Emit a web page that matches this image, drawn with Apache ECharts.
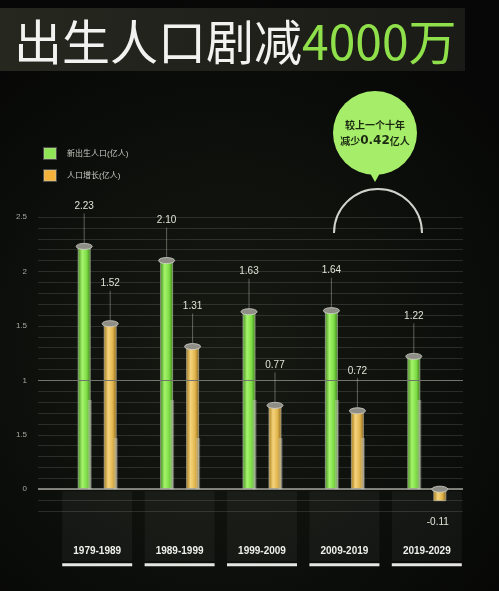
<!DOCTYPE html>
<html>
<head>
<meta charset="utf-8">
<script src="https://cdn.jsdelivr.net/npm/echarts@6/dist/echarts.min.js"></script>
<style>
html, body { margin: 0; padding: 0; background: #080907; }
#chart { width: 499px; height: 591px; }
</style>
</head>
<body>
<div id="chart"></div>
<script>
var categories = ['1979-1989', '1989-1999', '1999-2009', '2009-2019', '2019-2029'];
var births = [2.23, 2.10, 1.63, 1.64, 1.22];
var growth = [1.52, 1.31, 0.77, 0.72, -0.11];
// tick labels as printed on the original (0.5 is labelled "1.5")
var yTickLabels = ['0', '1.5', '1', '1.5', '2', '2.5'];
var birthName = '新出生人口(亿人)';
var growthName = '人口增长(亿人)';

var chartDom = document.getElementById('chart');
var myChart = echarts.init(chartDom);

function tube(stops) {
    return new echarts.graphic.LinearGradient(0, 0, 1, 0, stops);
}

// cap, stick, glass reflection and value label for each tube
function decor(offset, glassLevel) {
    return function (params, api) {
        var idx = api.value(0);
        var val = api.value(1);
        var end = api.coord([idx, val]);
        var zero = api.coord([idx, 0]);
        var x = end[0] + offset;
        var kids = [];
        if (val >= 0) {
            var g = api.coord([idx, Math.min(glassLevel, val)]);
            kids.push({
                type: 'rect',
                shape: { x: x + 3.5, y: g[1], width: 4, height: zero[1] - g[1] },
                style: { fill: 'rgba(225,225,215,0.35)' }
            });
            kids.push({
                type: 'line',
                shape: { x1: x, y1: end[1] - 33, x2: x, y2: end[1] - 3 },
                style: { stroke: 'rgba(210,210,200,0.4)', lineWidth: 1 }
            });
        }
        kids.push({
            type: 'ellipse',
            shape: { cx: x, cy: val >= 0 ? end[1] : zero[1], rx: 8, ry: 3 },
            style: { fill: '#8e8e86', stroke: '#d6d6ce', lineWidth: 0.8 }
        });
        kids.push({
            type: 'text',
            style: {
                text: val.toFixed(2),
                x: x - (val < 0 ? 2 : 0),
                y: val >= 0 ? end[1] - 40 : end[1] + 21,
                align: 'center',
                verticalAlign: 'middle',
                fill: '#e2e2d6',
                fontSize: 10,
                fontFamily: 'Liberation Sans'
            }
        });
        return { type: 'group', children: kids };
    };
}

// dark panel and white underline under each period label
function categoryPanel(params, api) {
    var c = api.coord([api.value(0), 0]);
    return {
        type: 'group',
        children: [
            {
                type: 'rect',
                shape: { x: c[0] - 35, y: c[1] + 2, width: 70, height: 70 },
                style: { fill: 'rgba(255,255,255,0.045)' }
            },
            {
                type: 'rect',
                shape: { x: c[0] - 35, y: c[1] + 74, width: 70, height: 3 },
                style: { fill: '#e6e6e2' }
            }
        ]
    };
}

var option = {
    backgroundColor: new echarts.graphic.RadialGradient(0.45, 0.6, 0.75, [
        { offset: 0, color: '#161a12' },
        { offset: 1, color: '#060706' }
    ]),
    textStyle: { fontFamily: "'Liberation Sans', 'Noto Sans CJK SC', sans-serif" },
    title: {
        text: '{a|出生人口剧减}{b|4000万}',
        left: 9,
        top: 9,
        textStyle: {
            fontWeight: 'normal',
            rich: {
                a: { fontSize: 48, fontWeight: 'normal', color: '#f2f2f0', fontFamily: 'Noto Sans CJK SC', lineHeight: 55 },
                b: { fontSize: 48, fontWeight: 'normal', color: '#8fe04a', fontFamily: 'Noto Sans CJK SC', lineHeight: 55 }
            }
        }
    },
    legend: {
        orient: 'vertical',
        left: 38,
        top: 142,
        itemWidth: 12,
        itemHeight: 11,
        itemGap: 9,
        icon: 'rect',
        textStyle: { color: '#c8c8c0', fontSize: 8, padding: [0, 0, 0, 6] },
        data: [
            { name: birthName, itemStyle: { color: '#8ee655' } },
            { name: growthName, itemStyle: { color: '#f4b23a' } }
        ]
    },
    grid: [
        { left: 38, right: 36, top: 217, bottom: 80 },
        { left: 56, right: 31, top: 217, bottom: 80 }
    ],
    xAxis: [
        { type: 'value', gridIndex: 0, min: 0, max: 1, show: false },
        {
            type: 'category',
            gridIndex: 1,
            data: categories,
            axisLine: { show: false },
            axisTick: { show: false },
            axisLabel: {
                interval: 0,
                margin: 35,
                fontSize: 10,
                fontWeight: 'bold',
                color: '#f0f0ea'
            }
        }
    ],
    yAxis: [
        {
            type: 'value',
            gridIndex: 0,
            min: -0.2,
            max: 2.5,
            interval: 0.1,
            axisLine: { show: false },
            axisTick: { show: false },
            axisLabel: {
                color: '#a8a8a0',
                fontSize: 8,
                margin: 11,
                formatter: function (val) {
                    var k = Math.round(val * 2);
                    if (val < -1e-6 || Math.abs(val * 2 - k) > 1e-6) return '';
                    return yTickLabels[k];
                }
            },
            splitLine: { lineStyle: { color: 'rgba(255,255,255,0.12)', width: 1 } }
        },
        { type: 'value', gridIndex: 1, min: -0.2, max: 2.5, show: false }
    ],
    graphic: [
        {
            type: 'rect', z: -1, silent: true,
            shape: { x: 0, y: 8, width: 465, height: 63 },
            style: {
                fill: new echarts.graphic.LinearGradient(0, 0, 1, 0, [
                    { offset: 0, color: '#26271f' },
                    { offset: 1, color: '#1a1b16' }
                ])
            }
        },
        {
            type: 'circle', silent: true,
            shape: { cx: 375, cy: 133, r: 42 },
            style: { fill: '#a6ee6a' }
        },
        {
            type: 'polygon', silent: true,
            shape: { points: [[370, 173], [380, 173], [375, 182]] },
            style: { fill: '#a6ee6a' }
        },
        {
            type: 'text', silent: true,
            style: {
                text: '{t|较上一个十年}\n{t|减少}{n|0.42}{t|亿人}',
                x: 375, y: 133, align: 'center', verticalAlign: 'middle',
                rich: {
                    t: { fontSize: 10, fontWeight: 'bold', fill: '#1d2a12', lineHeight: 16, fontFamily: 'Noto Sans CJK SC' },
                    n: { fontSize: 12, fontWeight: 'bold', fill: '#1d2a12', lineHeight: 16, fontFamily: 'DejaVu Sans' }
                }
            }
        },
        {
            type: 'arc', silent: true,
            shape: { cx: 378, cy: 233, r: 44, startAngle: Math.PI, endAngle: Math.PI * 2 },
            style: { stroke: '#d2d2cc', lineWidth: 2, fill: 'none' }
        }
    ],
    series: [
        {
            type: 'line',
            xAxisIndex: 0,
            yAxisIndex: 0,
            data: [],
            silent: true,
            markLine: {
                silent: true,
                symbol: ['none', 'none'],
                label: { show: false },
                data: [
                    { yAxis: 0, lineStyle: { color: '#a4a49c', width: 1.5, type: 'solid' } },
                    { yAxis: 1, lineStyle: { color: '#74746e', width: 1, type: 'solid' } }
                ]
            }
        },
        {
            type: 'custom',
            xAxisIndex: 1,
            yAxisIndex: 1,
            z: 1,
            silent: true,
            renderItem: categoryPanel,
            data: categories.map(function (c, i) { return [i, 0]; })
        },
        {
            name: birthName,
            type: 'bar',
            xAxisIndex: 1,
            yAxisIndex: 1,
            barWidth: 13,
            barGap: '100%',
            data: births,
            itemStyle: {
                color: tube([
                    { offset: 0, color: '#3f8a1c' },
                    { offset: 0.35, color: '#a6f46c' },
                    { offset: 0.7, color: '#7cdc44' },
                    { offset: 1, color: '#3a7a1a' }
                ]),
                borderColor: 'rgba(200,200,190,0.35)',
                borderWidth: 1
            }
        },
        {
            name: growthName,
            type: 'bar',
            xAxisIndex: 1,
            yAxisIndex: 1,
            barWidth: 13,
            barGap: '100%',
            data: growth,
            itemStyle: {
                color: tube([
                    { offset: 0, color: '#a27818' },
                    { offset: 0.35, color: '#f6d47c' },
                    { offset: 0.7, color: '#e0b44c' },
                    { offset: 1, color: '#86621a' }
                ]),
                borderColor: 'rgba(200,200,190,0.35)',
                borderWidth: 1
            }
        },
        {
            name: birthName,
            type: 'custom',
            xAxisIndex: 1,
            yAxisIndex: 1,
            z: 5,
            silent: true,
            renderItem: decor(-13, 0.82),
            data: births.map(function (v, i) { return [i, v]; })
        },
        {
            name: growthName,
            type: 'custom',
            xAxisIndex: 1,
            yAxisIndex: 1,
            z: 5,
            silent: true,
            renderItem: decor(13, 0.47),
            data: growth.map(function (v, i) { return [i, v]; })
        }
    ]
};
myChart.setOption(option);

window.addEventListener('resize', function () {
    myChart.resize();
});
</script>
</body>
</html>
